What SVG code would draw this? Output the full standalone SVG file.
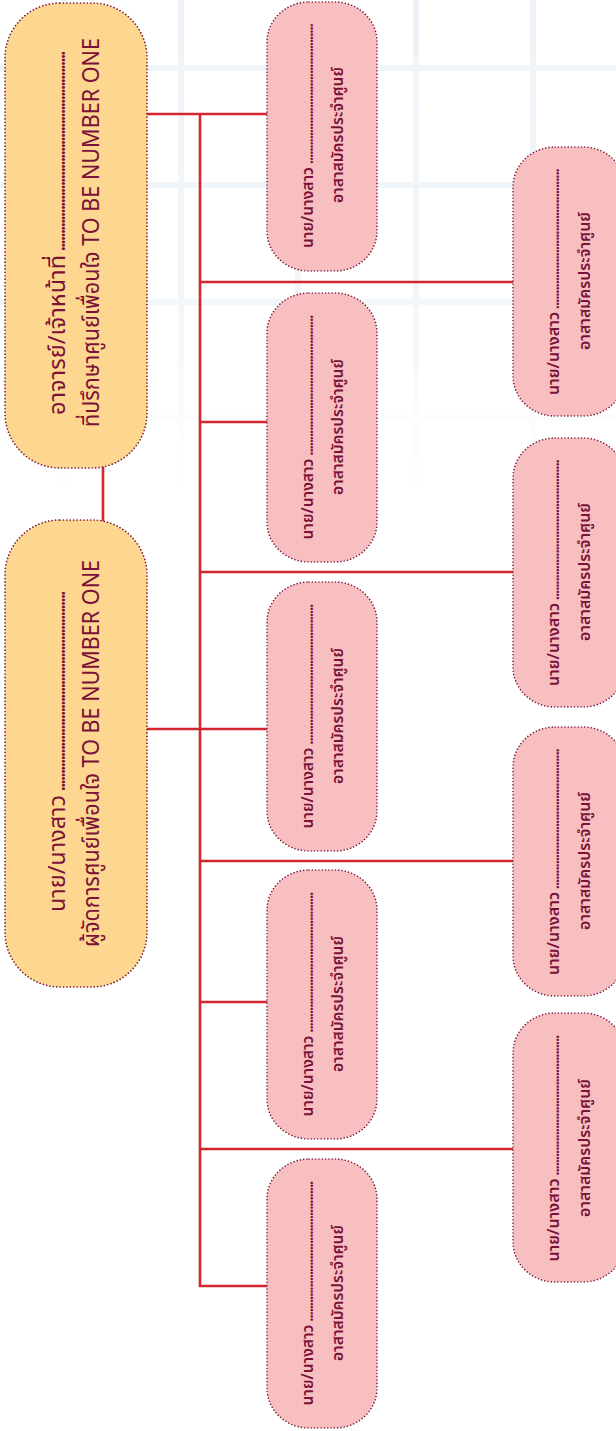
<svg xmlns="http://www.w3.org/2000/svg" width="616" height="1431" viewBox="0 0 616 1431">
<defs>
<linearGradient id="fade" gradientUnits="userSpaceOnUse" x1="0" y1="0" x2="0" y2="495">
<stop offset="0" stop-color="#fff" stop-opacity="1"/>
<stop offset="0.55" stop-color="#fff" stop-opacity="0.8"/>
<stop offset="1" stop-color="#fff" stop-opacity="0"/>
</linearGradient>
<mask id="gridMask" maskUnits="userSpaceOnUse" x="0" y="0" width="616" height="1431">
<rect x="0" y="0" width="616" height="500" fill="url(#fade)"/>
</mask>
</defs>
<style>
.grid line{stroke:#edf3f8;stroke-width:6}
.conn path{stroke:#d3262f;stroke-width:2.6;fill:none}
.yel{fill:#fdd78f;stroke:#7a1a3c;stroke-width:1.7;stroke-dasharray:0.01 3.4;stroke-linecap:round}
.pink{fill:#f7bfc0;stroke:#7a1a3c;stroke-width:1.6;stroke-dasharray:0.01 3.3;stroke-linecap:round}
text{font-family:"Noto Sans Thai","Noto Sans","DejaVu Sans",sans-serif;fill:#7a1139;text-anchor:middle}
.ty{font-size:23px;font-weight:400}
.tp{font-size:16px;font-weight:600}
</style>
<rect width="616" height="1431" fill="#ffffff"/>
<g class="grid" mask="url(#gridMask)">
<line x1="64" y1="0" x2="64" y2="500"/>
<line x1="181" y1="0" x2="181" y2="500"/>
<line x1="298" y1="0" x2="298" y2="500"/>
<line x1="416" y1="0" x2="416" y2="500"/>
<line x1="533" y1="0" x2="533" y2="500"/>
<line x1="0" y1="68" x2="616" y2="68"/>
<line x1="0" y1="185" x2="616" y2="185"/>
<line x1="0" y1="302" x2="616" y2="302"/>
<line x1="0" y1="418" x2="616" y2="418"/>
</g>
<g id="connectors" class="conn">
<path d="M103,466V521"/>
<path d="M147,114H267"/>
<path d="M200,114V1286H267"/>
<path d="M147,729H267"/>
<path d="M200,422H267"/>
<path d="M200,1002H267"/>
<path d="M200,282H513"/>
<path d="M200,572H513"/>
<path d="M200,861H513"/>
<path d="M200,1149H513"/>
</g>
<g id="advisor">
<rect class="yel" x="5" y="3" width="142" height="465" rx="55" ry="55"/>
<text class="ty" transform="translate(65,232.5) rotate(-90)"><tspan textLength="160" lengthAdjust="spacingAndGlyphs">อาจารย์/เจ้าหน้าที่</tspan><tspan textLength="205" lengthAdjust="spacing"> ..........................................................</tspan></text>
<text class="ty" transform="translate(99,232.5) rotate(-90)" textLength="389" lengthAdjust="spacingAndGlyphs">ที่ปรึกษาศูนย์เพื่อนใจ TO BE NUMBER ONE</text>
</g>
<g id="manager">
<rect class="yel" x="5" y="520" width="142" height="467" rx="55" ry="55"/>
<text class="ty" transform="translate(65,751) rotate(-90)"><tspan textLength="117" lengthAdjust="spacingAndGlyphs">นาย/นางสาว</tspan><tspan textLength="205" lengthAdjust="spacing"> ..........................................................</tspan></text>
<text class="ty" transform="translate(99,753.5) rotate(-90)" textLength="387" lengthAdjust="spacingAndGlyphs">ผู้จัดการศูนย์เพื่อนใจ TO BE NUMBER ONE</text>
</g>
<g id="volunteer-1">
<rect class="pink" x="267" y="2" width="110" height="269" rx="42" ry="40"/>
<text class="tp" transform="translate(313,135.5) rotate(-90)"><tspan textLength="81" lengthAdjust="spacingAndGlyphs">นาย/นางสาว</tspan><tspan textLength="144" lengthAdjust="spacing"> .............................................</tspan></text>
<text class="tp" transform="translate(343,135) rotate(-90)" textLength="136" lengthAdjust="spacingAndGlyphs">อาสาสมัครประจำศูนย์</text>
</g>
<g id="volunteer-2">
<rect class="pink" x="267" y="293" width="110" height="269" rx="42" ry="40"/>
<text class="tp" transform="translate(313,427) rotate(-90)"><tspan textLength="81" lengthAdjust="spacingAndGlyphs">นาย/นางสาว</tspan><tspan textLength="144" lengthAdjust="spacing"> .............................................</tspan></text>
<text class="tp" transform="translate(343,427) rotate(-90)" textLength="136" lengthAdjust="spacingAndGlyphs">อาสาสมัครประจำศูนย์</text>
</g>
<g id="volunteer-3">
<rect class="pink" x="267" y="582" width="110" height="269" rx="42" ry="40"/>
<text class="tp" transform="translate(313,716) rotate(-90)"><tspan textLength="81" lengthAdjust="spacingAndGlyphs">นาย/นางสาว</tspan><tspan textLength="144" lengthAdjust="spacing"> .............................................</tspan></text>
<text class="tp" transform="translate(343,716) rotate(-90)" textLength="136" lengthAdjust="spacingAndGlyphs">อาสาสมัครประจำศูนย์</text>
</g>
<g id="volunteer-4">
<rect class="pink" x="267" y="870" width="110" height="269" rx="42" ry="40"/>
<text class="tp" transform="translate(313,1004) rotate(-90)"><tspan textLength="81" lengthAdjust="spacingAndGlyphs">นาย/นางสาว</tspan><tspan textLength="144" lengthAdjust="spacing"> .............................................</tspan></text>
<text class="tp" transform="translate(343,1004) rotate(-90)" textLength="136" lengthAdjust="spacingAndGlyphs">อาสาสมัครประจำศูนย์</text>
</g>
<g id="volunteer-5">
<rect class="pink" x="267" y="1159" width="110" height="269" rx="42" ry="40"/>
<text class="tp" transform="translate(313,1293) rotate(-90)"><tspan textLength="81" lengthAdjust="spacingAndGlyphs">นาย/นางสาว</tspan><tspan textLength="144" lengthAdjust="spacing"> .............................................</tspan></text>
<text class="tp" transform="translate(343,1293) rotate(-90)" textLength="136" lengthAdjust="spacingAndGlyphs">อาสาสมัครประจำศูนย์</text>
</g>
<g id="volunteer-6">
<rect class="pink" x="513" y="147" width="112" height="269" rx="42" ry="40"/>
<text class="tp" transform="translate(559,281.5) rotate(-90)"><tspan textLength="83" lengthAdjust="spacingAndGlyphs">นาย/นางสาว</tspan><tspan textLength="144" lengthAdjust="spacing"> .............................................</tspan></text>
<text class="tp" transform="translate(590,281) rotate(-90)" textLength="138" lengthAdjust="spacingAndGlyphs">อาสาสมัครประจำศูนย์</text>
</g>
<g id="volunteer-7">
<rect class="pink" x="513" y="438" width="112" height="269" rx="42" ry="40"/>
<text class="tp" transform="translate(559,572.5) rotate(-90)"><tspan textLength="83" lengthAdjust="spacingAndGlyphs">นาย/นางสาว</tspan><tspan textLength="144" lengthAdjust="spacing"> .............................................</tspan></text>
<text class="tp" transform="translate(590,572) rotate(-90)" textLength="138" lengthAdjust="spacingAndGlyphs">อาสาสมัครประจำศูนย์</text>
</g>
<g id="volunteer-8">
<rect class="pink" x="513" y="727" width="112" height="269" rx="42" ry="40"/>
<text class="tp" transform="translate(559,861.5) rotate(-90)"><tspan textLength="83" lengthAdjust="spacingAndGlyphs">นาย/นางสาว</tspan><tspan textLength="144" lengthAdjust="spacing"> .............................................</tspan></text>
<text class="tp" transform="translate(590,861) rotate(-90)" textLength="138" lengthAdjust="spacingAndGlyphs">อาสาสมัครประจำศูนย์</text>
</g>
<g id="volunteer-9">
<rect class="pink" x="513" y="1013" width="112" height="269" rx="42" ry="40"/>
<text class="tp" transform="translate(559,1148) rotate(-90)"><tspan textLength="83" lengthAdjust="spacingAndGlyphs">นาย/นางสาว</tspan><tspan textLength="144" lengthAdjust="spacing"> .............................................</tspan></text>
<text class="tp" transform="translate(590,1148) rotate(-90)" textLength="138" lengthAdjust="spacingAndGlyphs">อาสาสมัครประจำศูนย์</text>
</g>
</svg>
